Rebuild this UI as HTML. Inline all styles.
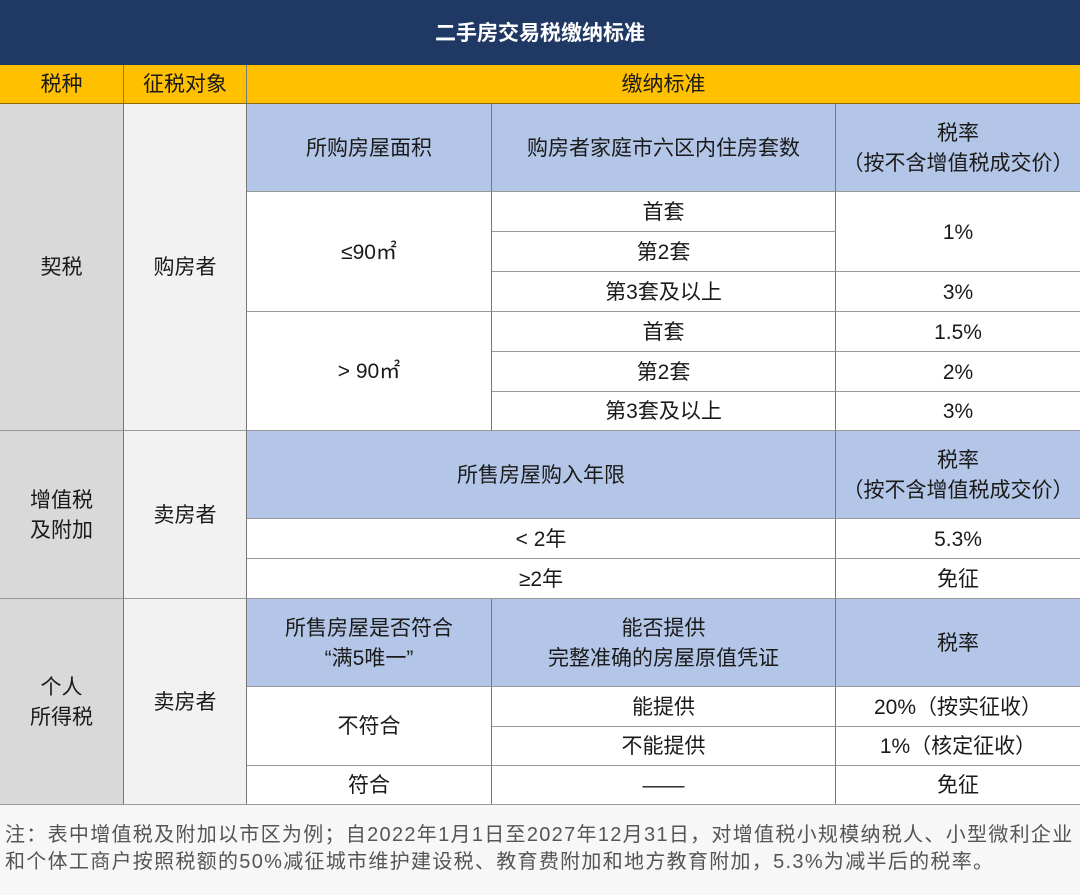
<!DOCTYPE html>
<html><head><meta charset="utf-8">
<style>
body{margin:0;width:1080px;height:895px;position:relative;background:#fff;font-family:"Liberation Sans","Noto Sans CJK SC",sans-serif;overflow:hidden}
.c{position:absolute;box-sizing:border-box;display:flex;align-items:center;justify-content:center;text-align:center;font-size:21px;color:#1a1a1a;border-right:1px solid #777;border-bottom:1px solid #999;line-height:1.4;padding-top:2px}
.g1{background:#d9d9d9}.g2{background:#f2f2f2}.hb{background:#b4c6e7}.y{background:#ffc000;border-bottom:1px solid #8a6a00}
</style></head><body>
<div class="c" style="left:0;top:0;width:1080px;height:65px;background:#203864;color:#fff;font-weight:bold;border:none">二手房交易税缴纳标准</div>
<div class="c y" style="left:0;top:65px;width:124px;height:39px">税种</div>
<div class="c y" style="left:124px;top:65px;width:123px;height:39px">征税对象</div>
<div class="c y" style="left:247px;top:65px;width:833px;height:39px;border-right:none">缴纳标准</div>

<div class="c g1" style="left:0;top:104px;width:124px;height:327px">契税</div>
<div class="c g1" style="left:0;top:431px;width:124px;height:168px">增值税<br>及附加</div>
<div class="c g1" style="left:0;top:599px;width:124px;height:206px">个人<br>所得税</div>
<div class="c g2" style="left:124px;top:104px;width:123px;height:327px">购房者</div>
<div class="c g2" style="left:124px;top:431px;width:123px;height:168px">卖房者</div>
<div class="c g2" style="left:124px;top:599px;width:123px;height:206px">卖房者</div>

<div class="c hb" style="left:247px;top:104px;width:245px;height:88px">所购房屋面积</div>
<div class="c hb" style="left:492px;top:104px;width:344px;height:88px">购房者家庭市六区内住房套数</div>
<div class="c hb" style="left:836px;top:104px;width:244px;height:88px;border-right:none">税率<br>（按不含增值税成交价）</div>
<div class="c" style="left:247px;top:192px;width:245px;height:120px">≤90㎡</div>
<div class="c" style="left:247px;top:312px;width:245px;height:119px">&gt; 90㎡</div>
<div class="c" style="left:492px;top:192px;width:344px;height:40px">首套</div>
<div class="c" style="left:492px;top:232px;width:344px;height:40px">第2套</div>
<div class="c" style="left:492px;top:272px;width:344px;height:40px">第3套及以上</div>
<div class="c" style="left:492px;top:312px;width:344px;height:40px">首套</div>
<div class="c" style="left:492px;top:352px;width:344px;height:40px">第2套</div>
<div class="c" style="left:492px;top:392px;width:344px;height:39px">第3套及以上</div>
<div class="c" style="left:836px;top:192px;width:244px;height:80px;border-right:none">1%</div>
<div class="c" style="left:836px;top:272px;width:244px;height:40px;border-right:none">3%</div>
<div class="c" style="left:836px;top:312px;width:244px;height:40px;border-right:none">1.5%</div>
<div class="c" style="left:836px;top:352px;width:244px;height:40px;border-right:none">2%</div>
<div class="c" style="left:836px;top:392px;width:244px;height:39px;border-right:none">3%</div>

<div class="c hb" style="left:247px;top:431px;width:589px;height:88px">所售房屋购入年限</div>
<div class="c hb" style="left:836px;top:431px;width:244px;height:88px;border-right:none">税率<br>（按不含增值税成交价）</div>
<div class="c" style="left:247px;top:519px;width:589px;height:40px">&lt; 2年</div>
<div class="c" style="left:836px;top:519px;width:244px;height:40px;border-right:none">5.3%</div>
<div class="c" style="left:247px;top:559px;width:589px;height:40px">≥2年</div>
<div class="c" style="left:836px;top:559px;width:244px;height:40px;border-right:none">免征</div>

<div class="c hb" style="left:247px;top:599px;width:245px;height:88px">所售房屋是否符合<br>“满5唯一”</div>
<div class="c hb" style="left:492px;top:599px;width:344px;height:88px">能否提供<br>完整准确的房屋原值凭证</div>
<div class="c hb" style="left:836px;top:599px;width:244px;height:88px;border-right:none">税率</div>
<div class="c" style="left:247px;top:687px;width:245px;height:79px">不符合</div>
<div class="c" style="left:492px;top:687px;width:344px;height:40px">能提供</div>
<div class="c" style="left:836px;top:687px;width:244px;height:40px;border-right:none">20%（按实征收）</div>
<div class="c" style="left:492px;top:727px;width:344px;height:39px">不能提供</div>
<div class="c" style="left:836px;top:727px;width:244px;height:39px;border-right:none">1%（核定征收）</div>
<div class="c" style="left:247px;top:766px;width:245px;height:39px">符合</div>
<div class="c" style="left:492px;top:766px;width:344px;height:39px">——</div>
<div class="c" style="left:836px;top:766px;width:244px;height:39px;border-right:none">免征</div>

<div style="position:absolute;left:0;top:805px;width:1080px;height:90px;background:#f7f7f7;box-sizing:border-box;padding:17px 0 0 5px;font-size:20px;letter-spacing:1.3px;line-height:27px;color:#555;white-space:nowrap">注：表中增值税及附加以市区为例；自2022年1月1日至2027年12月31日，对增值税小规模纳税人、小型微利企业<br>和个体工商户按照税额的50%减征城市维护建设税、教育费附加和地方教育附加，5.3%为减半后的税率。</div>
</body></html>
